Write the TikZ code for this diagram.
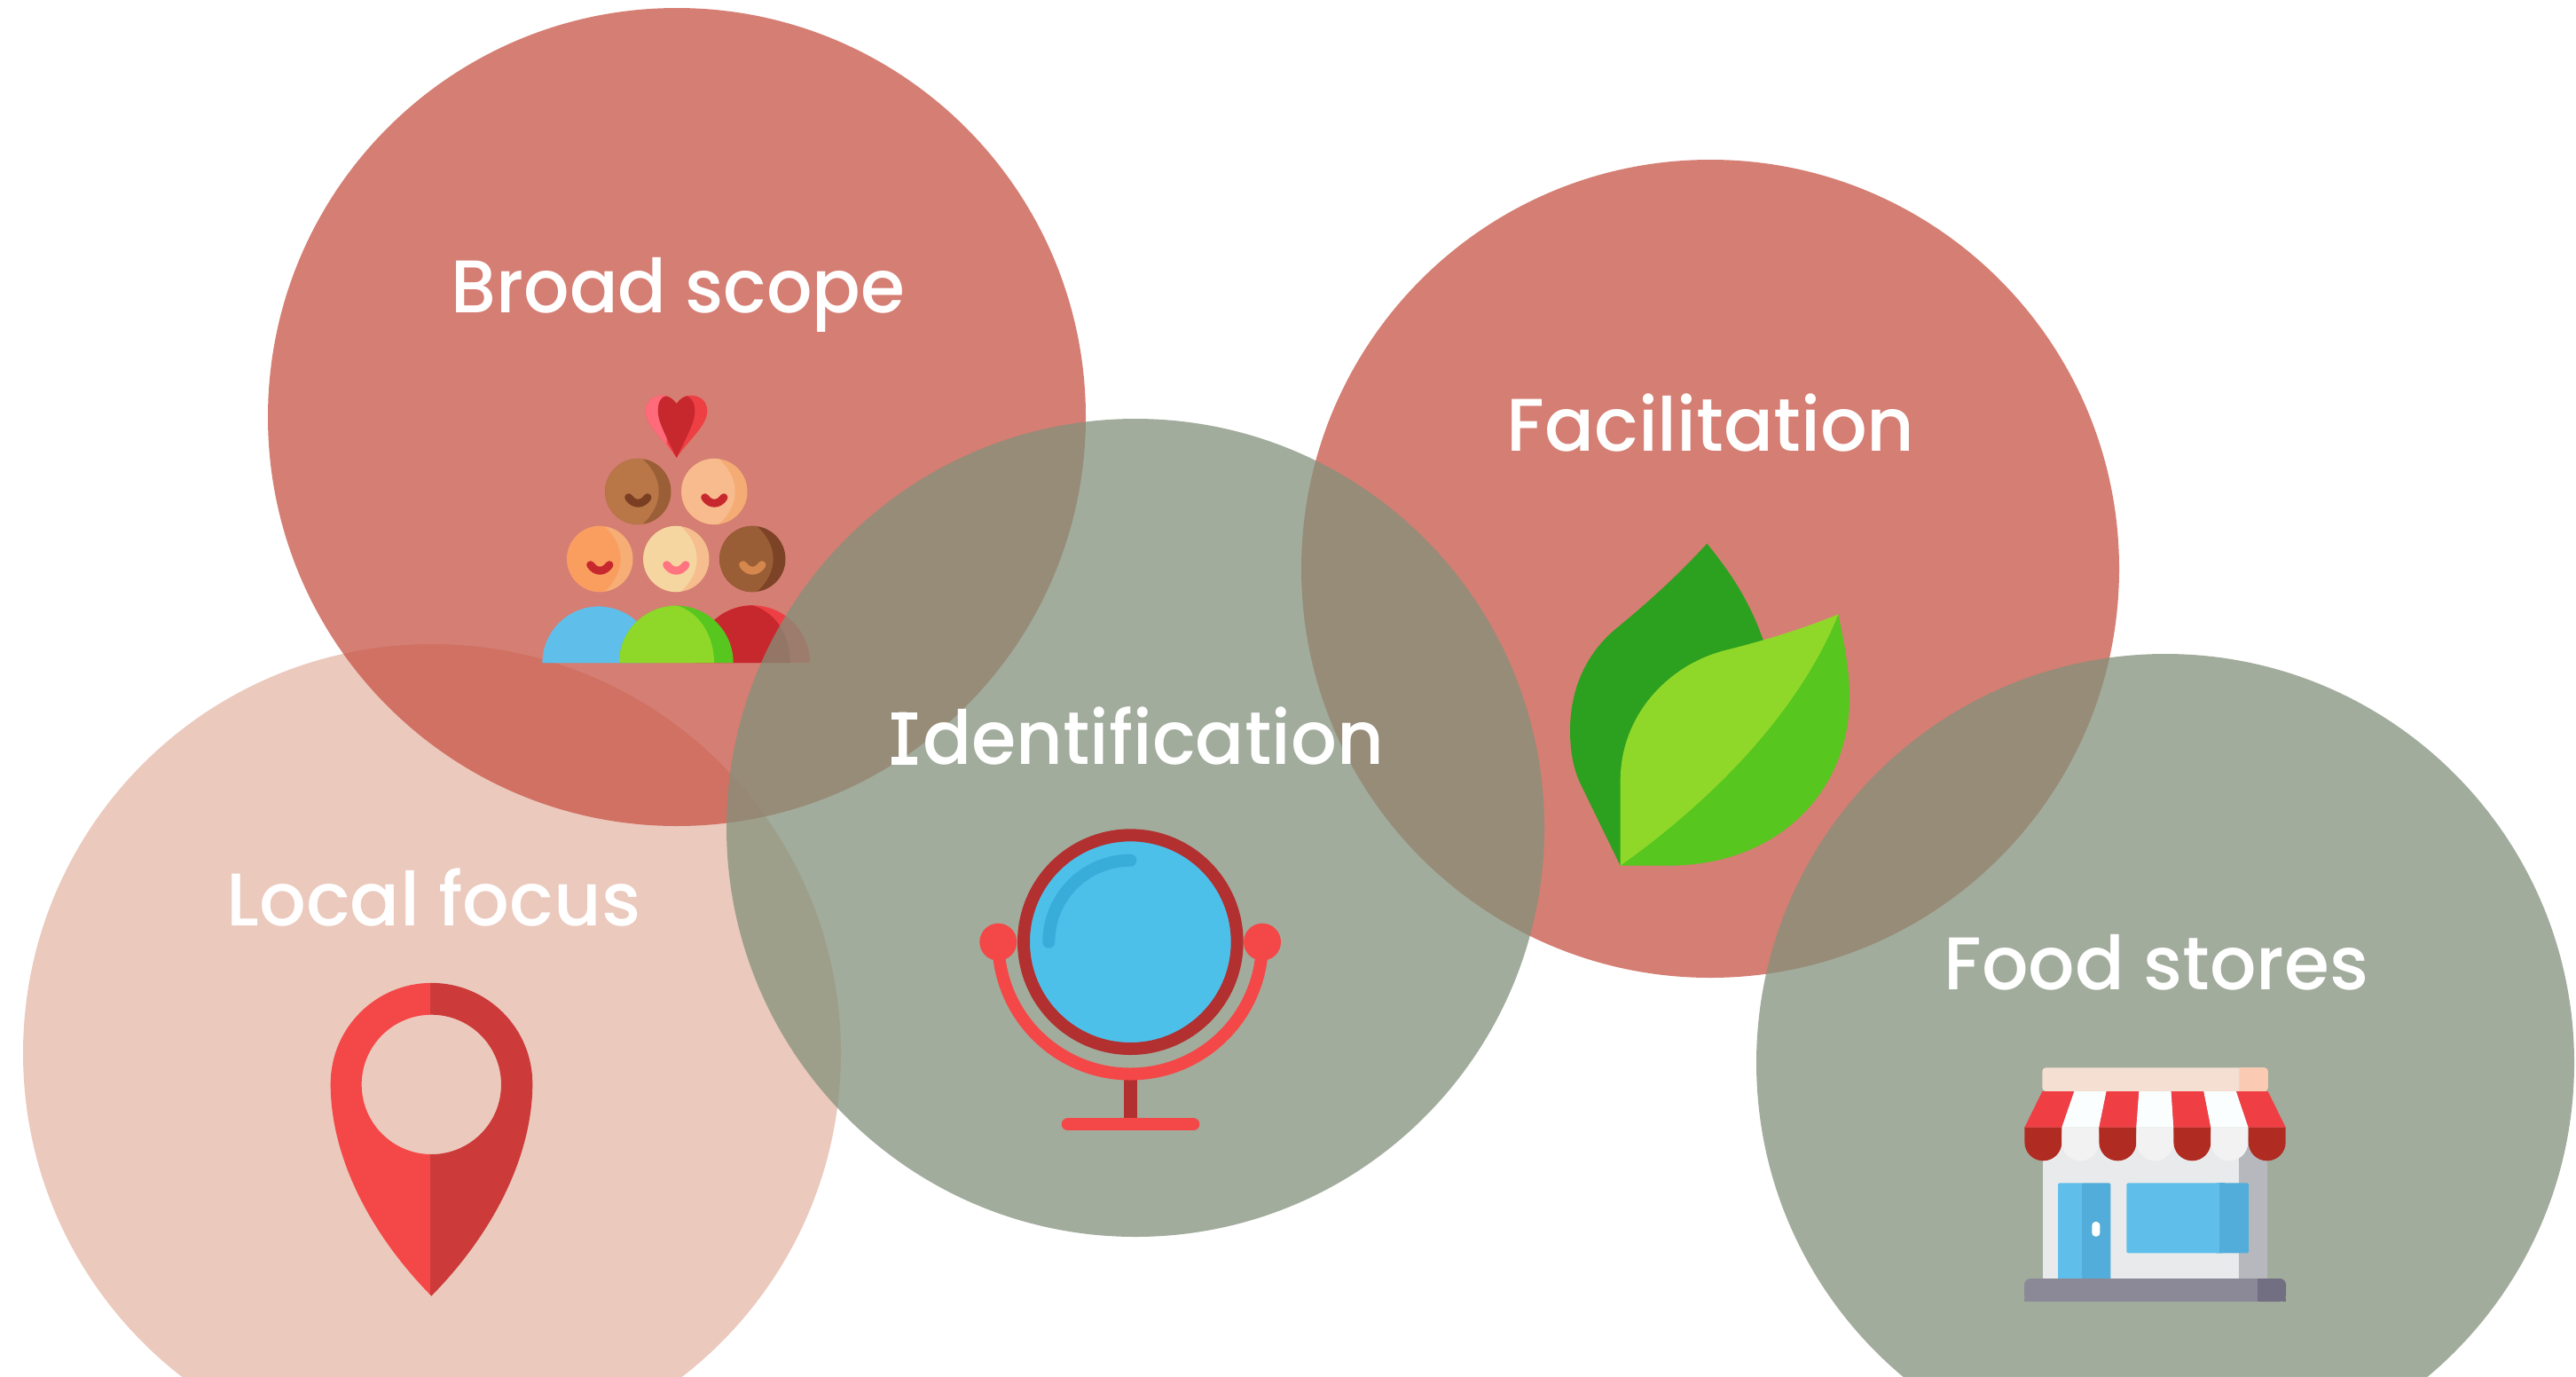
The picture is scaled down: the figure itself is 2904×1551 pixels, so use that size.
\documentclass[tikz,border=0pt]{standalone}
\usepackage{fontspec}
\newfontfamily\lab{Poppins Medium}
\definecolor{cRed}{HTML}{C75445}
\definecolor{cGreen}{HTML}{83917B}
\definecolor{cPink}{HTML}{E5B7A7}
\definecolor{pBlue}{HTML}{5FBFEA}
\definecolor{pBlueD}{HTML}{52ADDA}
\definecolor{pRed}{HTML}{C7282E}
\definecolor{pRedL}{HTML}{EE4044}
\definecolor{pRose}{HTML}{FF6B7A}
\definecolor{pLime}{HTML}{8FD829}
\definecolor{pLeaf}{HTML}{57C61F}
\definecolor{pDark}{HTML}{2CA01F}
\definecolor{mRing}{HTML}{B23030}
\definecolor{mArm}{HTML}{F44848}
\definecolor{mBlue}{HTML}{4DC0E9}
\definecolor{mHi}{HTML}{38ADDA}
\definecolor{hA}{HTML}{B97647}\definecolor{hAd}{HTML}{9A5F37}\definecolor{hAm}{HTML}{7A3F22}
\definecolor{hB}{HTML}{F8BB8E}\definecolor{hBd}{HTML}{F5AC74}
\definecolor{hC}{HTML}{FA9E60}\definecolor{hCd}{HTML}{F7AE76}
\definecolor{hD}{HTML}{F6D6A0}\definecolor{hDd}{HTML}{F6BD8E}\definecolor{hDm}{HTML}{FF7480}
\definecolor{hE}{HTML}{9A5E36}\definecolor{hEd}{HTML}{7D4326}\definecolor{hEm}{HTML}{D6874E}
\definecolor{sSign}{HTML}{F5DED2}\definecolor{sSignD}{HTML}{FBCAB2}
\definecolor{sRed}{HTML}{F03E45}\definecolor{sWhite}{HTML}{FAFEFE}
\definecolor{sRedD}{HTML}{B02C22}\definecolor{sGrey}{HTML}{F2F2F2}
\definecolor{sWall}{HTML}{E9EAEC}\definecolor{sWallD}{HTML}{B7B8BD}
\definecolor{sWalk}{HTML}{8B8997}\definecolor{sWalkD}{HTML}{716F81}
\definecolor{pinL}{HTML}{F44848}\definecolor{pinD}{HTML}{CC3A39}
\tikzset{
  bigcircle/.style={circle,minimum size=922pt,inner sep=0pt,opacity=.75},
  lbl/.style={text=white,anchor=base,inner sep=0pt,transform shape,font=\lab\fontsize{84}{100}\selectfont},
  zoomed/.style={x=.33333pt,y=-.33333pt}
}
\newcommand{\myhead}[5]{%
  \begin{scope}[shift={(#1,#2)}]
    \fill[#4] (0,0) circle [radius=111.5];
    \begin{scope}
      \clip (0,0) circle [radius=111.5];
      \fill[#3] (-120,-113) -- (12,-113) .. controls (50,-80) and (70,-40) .. (70,0) .. controls (70,40) and (50,80) .. (12,113) -- (-120,113) -- cycle;
    \end{scope}
    \draw[#5,line width=9pt,line cap=round] (-32,20) .. controls (-14,46) and (14,46) .. (32,20);
  \end{scope}}
\newcommand{\mybody}[4]{%
  \begin{scope}[shift={(#1,1041)}]
    \fill[#4] (-#2,0) arc [start angle=180,end angle=360,radius=#2] -- cycle;
    \begin{scope}
      \clip (-#2,0) arc [start angle=180,end angle=360,radius=#2] -- cycle;
      \fill[#3] (-200,0) -- (-200,-200) -- (0,-200) -- (3,-193) .. controls (80,-170) and (128,-90) .. (128,0) -- cycle;
    \end{scope}
  \end{scope}}
\newcommand{\stripe}[5]{\fill[#5] (#1,150) -- (#2,150) -- (#4,272) -- (#3,272) -- cycle;}
\newcommand{\scallop}[3]{\fill[#3] (#1,271) -- (#1,322) arc [start angle=180,end angle=0,radius=63] -- (#2,271) -- cycle;}
\begin{document}
\begin{tikzpicture}[x=1pt,y=-1pt]
\useasboundingbox (0,0) rectangle (2904,1551);
\fill[white] (0,0) rectangle (2904,1551);
\clip (0,0) rectangle (2904,1551);
\node[bigcircle,fill=cPink] (cLocal) at (487,1187) {};
\node[bigcircle,fill=cRed] (cBroad) at (763,470) {};
% people icon
\begin{scope}[shift={(560,400)},zoomed]
  \fill[pRedL] (608,348) .. controls (570,290) and (503,240) .. (503,190) .. controls (503,155) and (530,137) .. (560,137) .. controls (580,137) and (597,150) .. (608,165) .. controls (619,150) and (636,137) .. (656,137) .. controls (686,137) and (712,155) .. (712,190) .. controls (712,240) and (646,290) .. cycle;
  \fill[pRose] (608,348) .. controls (570,290) and (503,240) .. (503,190) .. controls (503,155) and (530,137) .. (560,137) -- (575,139) -- (575,300) -- cycle;
  \fill[pRed] (608,348) .. controls (570,270) and (545,225) .. (545,190) .. controls (545,160) and (555,142) .. (572,139) .. controls (585,142) and (597,150) .. (608,165) .. controls (619,150) and (630,142) .. (643,139) .. controls (660,145) and (670,165) .. (670,190) .. controls (670,230) and (640,280) .. cycle;
  \myhead{478}{462}{hA}{hAd}{hAm}
  \myhead{736}{462}{hB}{hBd}{pRed}
  \myhead{349}{690}{hC}{hCd}{pRed}
  \myhead{607}{690}{hD}{hDd}{hDm}
  \myhead{865}{690}{hE}{hEd}{hEm}
  \mybody{865}{194}{pRed}{pRedL}
  \mybody{345}{190}{pBlue}{pBlue}
  \mybody{607}{193}{pLime}{pLeaf}
\end{scope}
\node[bigcircle,fill=cRed] (cFacil) at (1928,641) {};
% leaf icon
\begin{scope}[shift={(1740,590)},zoomed]
  \fill[pDark] (553,68) .. controls (450,180) and (350,270) .. (240,360) .. controls (130,455) and (90,580) .. (90,700) .. controls (90,765) and (100,828) .. (125,880) -- (260,1157) -- (745,400) .. controls (700,270) and (640,175) .. cycle;
  \fill[pLeaf] (997,307) .. controls (1020,420) and (1035,500) .. (1035,590) .. controls (1035,900) and (800,1157) .. (420,1157) -- (260,1157) -- cycle;
  \fill[pLime] (260,1157) -- (260,870) .. controls (260,650) and (420,480) .. (610,430) .. controls (750,395) and (880,355) .. (997,307) .. controls (880,600) and (620,900) .. cycle;
\end{scope}
\node[bigcircle,fill=cGreen] (cIdent) at (1280,933) {};
\node[bigcircle,fill=cGreen] (cFood) at (2441,1198) {};
% mirror icon
\begin{scope}[shift={(1100,920)},zoomed]
  \draw[mRing,line width=15pt] (523,892) -- (523,1022);
  \draw[mArm,line width=14pt] (76,425) arc [start angle=180,end angle=0,radius=446.5];
  \fill[mArm] (76,425) circle [radius=63];
  \fill[mArm] (969,425) circle [radius=63];
  \draw[mArm,line width=14pt,line cap=round] (311,1042) -- (736,1042);
  \fill[mBlue] (523,425) circle [radius=360];
  \draw[mRing,line width=14pt] (523,425) circle [radius=361];
  \draw[mHi,line width=14pt,line cap=round] (247,425) arc [start angle=180,end angle=270,radius=276];
\end{scope}
% pin icon
\begin{scope}[shift={(350,1090)},zoomed]
  \def\pinpath{(409,1112) .. controls (200,900) and (68,640) .. (68,395) arc [start angle=180,end angle=360,radius=341.5] .. controls (750,640) and (618,900) .. (409,1112) -- cycle (409,397) circle [radius=236]}
  \begin{scope}
    \clip (0,0) rectangle (405,1200);
    \fill[pinL,even odd rule] \pinpath;
  \end{scope}
  \begin{scope}
    \clip (405,0) rectangle (840,1200);
    \fill[pinD,even odd rule] \pinpath;
  \end{scope}
\end{scope}
% store icon
\begin{scope}[shift={(2240,1180)},zoomed]
  \fill[sWall] (190,290) rectangle (852,783);
  \fill[sWallD] (852,290) rectangle (948,783);
  \fill[sSign,rounded corners=4pt] (187,150) -- (187,70) -- (950,70) -- (950,150) -- cycle;
  \begin{scope}
    \clip (853,60) rectangle (960,160);
    \fill[sSignD,rounded corners=4pt] (187,150) -- (187,70) -- (950,70) -- (950,150) -- cycle;
  \end{scope}
  \scallop{127}{253}{sRedD}
  \scallop{253}{379}{sGrey}
  \scallop{379}{505}{sRedD}
  \scallop{505}{631}{sGrey}
  \scallop{631}{757}{sRedD}
  \scallop{757}{884}{sGrey}
  \scallop{884}{1010}{sRedD}
  \stripe{187}{295}{127}{253}{sRed}
  \stripe{295}{404}{253}{379}{sWhite}
  \stripe{404}{514}{379}{505}{sRed}
  \stripe{514}{623}{505}{631}{sWhite}
  \stripe{623}{733}{631}{757}{sRed}
  \stripe{733}{843}{757}{884}{sWhite}
  \stripe{843}{950}{884}{1010}{sRed}
  % door
  \fill[pBlueD,rounded corners=2pt] (321,790) -- (321,460) -- (418,460) -- (418,790) -- cycle;
  \fill[pBlue,rounded corners=2pt] (240,790) -- (240,460) -- (330,460) -- (330,790) -- cycle;
  \fill[pBlueD] (321,462) rectangle (335,790);
  \fill[white,rounded corners=4pt] (355,591) rectangle (382,641);
  % window
  \fill[pBlueD,rounded corners=2pt] (770,460) rectangle (885,697);
  \fill[pBlue,rounded corners=2pt] (472,460) rectangle (800,697);
  \fill[pBlueD] (787,460) rectangle (805,697);
  % sidewalk
  \fill[sWalkD,rounded corners=7pt] (900,861) -- (900,783) -- (1011,783) -- (1011,861) -- cycle;
  \fill[sWalk,rounded corners=7pt] (126,861) -- (126,783) -- (930,783) -- (930,861) -- cycle;
  \fill[sWalkD] (915,783) rectangle (935,861);
  \fill[sWalk] (126,850) rectangle (140,861);
  \fill[sWalkD] (1000,850) rectangle (1011,861);
\end{scope}
% labels
\node[lbl,xscale=.962] (tBroad) at (764.5,352.5) {Broad scope};
\node[lbl,xscale=.985] (tFacil) at (1928.7,508.3) {Facilitation};
\node[lbl,xscale=.97,anchor=base west] (tIdent) at (1007,861.7) {I\kern12pt dentification};
\fill[white] (1005,802.7) rectangle (1034,811);
\fill[white] (1005,853.4) rectangle (1034,861.7);
\node[lbl,xscale=.985] (tLocal) at (489,1043.7) {Local focus};
\node[lbl,xscale=.98] (tFood) at (2431,1115) {Food stores};
\end{tikzpicture}
\end{document}
